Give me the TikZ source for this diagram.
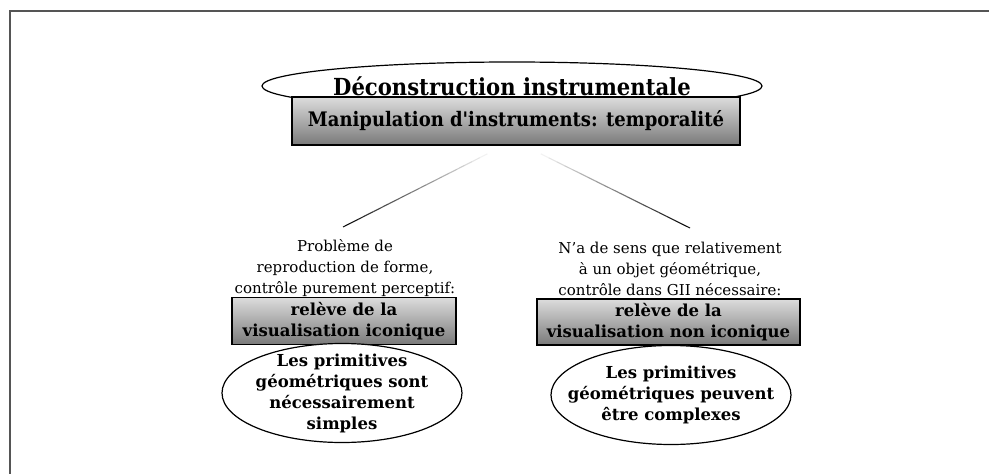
\documentclass[tikz,border=0pt]{standalone}
\usepackage{fontspec}
\setmainfont{DejaVu Serif}
\newfontfamily\serrefont{DejaVu Serif Condensed}
\usepackage{xcolor}
\usepackage{tikz}
\usetikzlibrary{calc,shapes.geometric}
\definecolor{cadre}{HTML}{555555}
\definecolor{boxtop}{HTML}{DCDCDC}
\definecolor{boxbot}{HTML}{7A7A7A}
\tikzset{
  oval/.style={draw=black, ellipse, line width=1.2pt, fill=white,
    inner xsep=-20pt, inner ysep=-12pt, align=center},
  grisbox/.style={draw=black, line width=1.2pt, inner sep=0pt, align=center,
    top color=boxtop, middle color=white, bottom color=boxbot},
  texte/.style={align=center, inner sep=0pt, font=\fontsize{15}{21}\selectfont},
  gras/.style={font=\fontsize{16.5}{21}\selectfont\bfseries}
}
\begin{document}
\begin{tikzpicture}[x=1pt,y=-1pt]
  \useasboundingbox (0,0) rectangle (989,474);
  % partial frame (top and left only)
  \draw[cadre, line width=1.6pt] (10,474) -- (10,11) -- (989,11);

  \node[oval, minimum width=500, minimum height=48,
    font=\serrefont\fontsize{23.5}{27}\selectfont\bfseries] (titre) at (512,86)
    {Déconstruction instrumentale};
  \node[grisbox, minimum width=448, minimum height=48,
    font=\serrefont\fontsize{20}{23}\selectfont\bfseries] (manip) at (516,121)
    {Manipulation d'instruments: temporalité};

  % two branches
  \node[texte] (gauche) at (345,268)
    {Problème de\\reproduction de forme,\\contrôle purement perceptif:};
  \node[texte] (droite) at (670,269)
    {N'a de sens que relativement\\à un objet géométrique,\\contrôle dans GII nécessaire:};

  \node[grisbox, gras, minimum width=224, minimum height=47] (relG) at (344,321)
    {relève de la\\visualisation iconique};
  \node[grisbox, gras, minimum width=263, minimum height=46] (relD) at (668.5,322)
    {relève de la\\visualisation non iconique};

  \node[oval, gras, minimum width=240, minimum height=99] (primG) at (342,393)
    {Les primitives\\géométriques sont\\nécessairement\\simples};
  \node[oval, gras, minimum width=240, minimum height=99] (primD) at (671,395)
    {Les primitives\\géométriques peuvent\\être complexes};

  % fading connectors
  \coordinate (hautG) at (495,150);
  \coordinate (basG) at (343,227);
  \coordinate (hautD) at (533,150);
  \coordinate (basD) at (690,228);
  \foreach \a/\b in {hautG/basG, hautD/basD}{
    \foreach \i in {0,...,19}{
      \pgfmathsetmacro{\ton}{5*\i}
      \draw[black!\ton, line width=1.1pt]
        ($(\a)!\i/20!(\b)$) -- ($(\a)!{(\i+1)/20}!(\b)$);
    }
  }
\end{tikzpicture}
\end{document}
